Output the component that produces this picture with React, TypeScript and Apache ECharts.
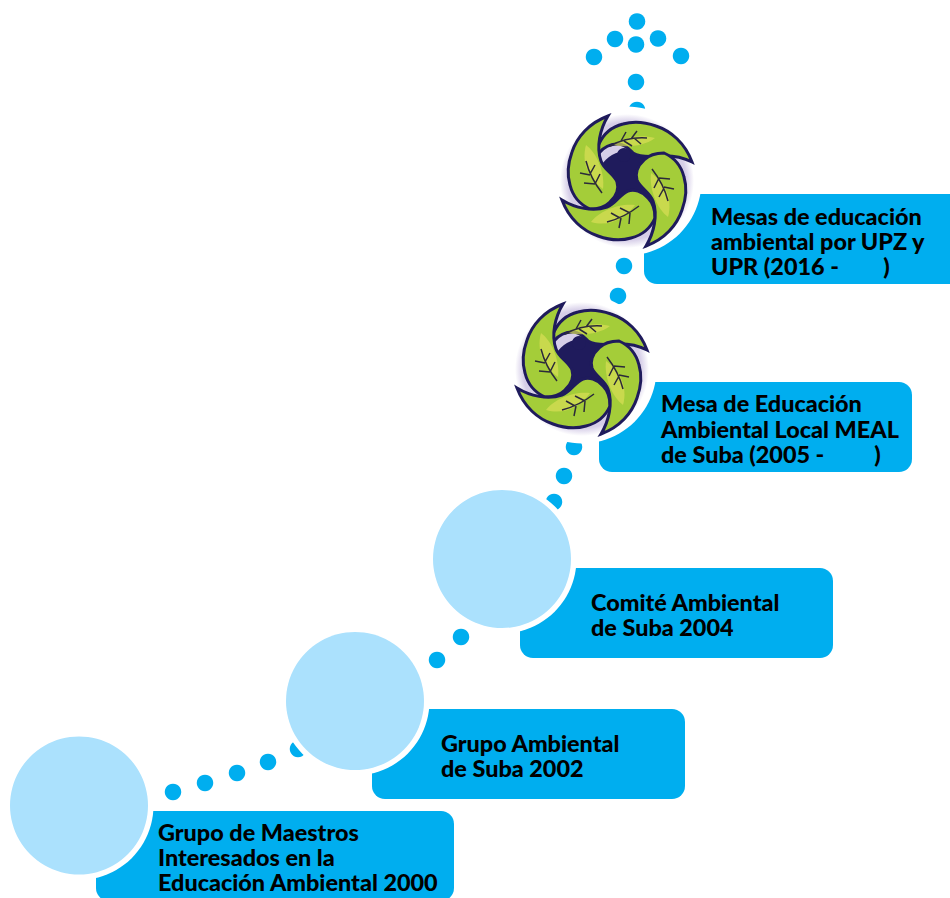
import React, { useEffect, useRef } from "react";
import * as echarts from "echarts";

const WIDTH = 950;
const HEIGHT = 898;

const dotX = [637, 615, 658, 594, 681, 636, 636, 637, 624, 618, 574, 564, 554, 461, 437, 298, 268, 237, 205, 173];
const dotY = [21.5, 39, 38.5, 57, 56, 44.5, 82, 110, 266, 296, 447, 476, 502, 637, 660, 749, 762, 773, 783, 792];

const circleX = [79, 355, 502];
const circleY = [805.5, 701, 559];

const logoX = [627, 582];
const logoY = [181, 369];

const boxLeft = [96, 372, 520, 599, 644];
const boxRight = [454, 685, 833, 912, 965];
const boxTop = [811, 709, 568, 382, 194];
const boxBottom = [901, 799, 658, 472, 284];

const labels = [
  "Grupo de Maestros\nInteresados en la\nEducación Ambiental 2000",
  "Grupo Ambiental\nde Suba 2002",
  "Comité Ambiental\nde Suba 2004",
  "Mesa de Educación\nAmbiental Local MEAL\nde Suba (2005 -         )",
  "Mesas de educación\nambiental por UPZ y\nUPR (2016 -        )",
];
const labelX = [158, 441, 591, 661, 711];
const labelY = [857, 755.5, 614.5, 428.5, 241];

const BLUE = "#00AEEF";
const LIGHT = "#ABE1FD";
const NAVY = "#1F1B5C";
const LEAF = "#A4CD39";

const OUTER_EDGE = "M65 -19 C58 -38 44 -50 29 -55 C18 -59 6 -60 -4 -57 C-16 -54 -24 -46 -28 -37";
const HEAD_LEAF_PATH =
  OUTER_EDGE + " C-30 -33 -30 -30 -28 -28 C-24 -33 -17 -37 -9 -37 C-2 -37 2 -32 6 -28 C13 -24 22 -24 32 -25 C44 -26 55 -24 65 -19 Z";
const LOBE_LEAF_PATH =
  OUTER_EDGE + " C-28 -29 -25 -21 -21 -17 C-15 -10 -7 -8 -1 -10 C7 -13 11 -23 20 -26 C34 -31 52 -27 65 -19 Z";
const HEAD_GLOW = "M-14 -36 C-2 -44 12 -47 28 -43 C18 -35 0 -33 -14 -36 Z";
const LOBE_GLOW = "M-8 -24 C2 -38 18 -46 36 -41 C28 -30 8 -22 -8 -24 Z";
const HEAD_VEIN =
  "M-17 -35 C-6 -41 6 -44 20 -43 M-6 -40 L-1 -49 M4 -42 L10 -50 M-3 -40 L5 -35 M7 -43 L14 -37";
const LOBE_VEIN =
  "M-12 -25 C-3 -32 8 -38 20 -41 M-3 -32 L-2 -43 M6 -37 L8 -47 M-3 -32 L7 -27 M7 -37 L16 -32";

const renderBox = (_: any, api: any) => {
  const i = api.value(0);
  const a = api.coord([boxLeft[i], boxTop[i]]);
  const b = api.coord([boxRight[i], boxBottom[i]]);
  return {
    type: "rect",
    shape: { x: a[0], y: a[1], width: b[0] - a[0], height: b[1] - a[1], r: 13 },
    style: { fill: BLUE },
  };
};

const renderLabel = (_: any, api: any) => {
  const i = api.value(0);
  const p = api.coord([labelX[i], labelY[i]]);
  return {
    type: "text",
    x: p[0],
    y: p[1],
    style: {
      text: labels[i],
      fill: "#000",
      font: "900 23.4px Lato",
      lineHeight: 25.3,
      align: "left",
      verticalAlign: "middle",
    },
  };
};

const renderLogo = (_: any, api: any) => {
  const p = api.coord([api.value(0), api.value(1)]);
  const leaf = (rotation: number, outline: string, glow: string, vein: string) => ({
    type: "group",
    rotation,
    children: [
      { type: "path", shape: { pathData: outline }, style: { fill: LEAF, stroke: NAVY, lineWidth: 3 } },
      { type: "path", shape: { pathData: glow }, style: { fill: "#D9DE55", opacity: 0.7 } },
      { type: "path", shape: { pathData: vein }, style: { fill: "none", stroke: "#2B2A3A", lineWidth: 1.5 } },
    ],
  });
  return {
    type: "group",
    x: p[0],
    y: p[1],
    children: [
      {
        type: "circle",
        shape: { cx: 0, cy: 0, r: 67 },
        style: {
          fill: new echarts.graphic.RadialGradient(0.5, 0.5, 0.5, [
            { offset: 0, color: "#D6CEE8" },
            { offset: 0.88, color: "#D6CEE8" },
            { offset: 1, color: "#FFFFFF" },
          ]),
        },
      },
      { type: "circle", shape: { cx: 0, cy: 0, r: 30 }, style: { fill: NAVY } },
      leaf(0, HEAD_LEAF_PATH, HEAD_GLOW, HEAD_VEIN),
      leaf(Math.PI / 2, LOBE_LEAF_PATH, LOBE_GLOW, LOBE_VEIN),
      leaf(Math.PI, LOBE_LEAF_PATH, LOBE_GLOW, LOBE_VEIN),
      leaf((3 * Math.PI) / 2, LOBE_LEAF_PATH, LOBE_GLOW, LOBE_VEIN),
      { type: "circle", shape: { cx: -3, cy: -26, r: 7 }, style: { fill: NAVY } },
    ],
  };
};

const xy = (xs: number[], ys: number[]) => xs.map((x, i) => [x, ys[i]]);
const indices = (n: number) => Array.from({ length: n }, (_, i) => [i]);

export default function App() {
  const ref = useRef<HTMLDivElement>(null);

  useEffect(() => {
    document.body.style.margin = "0";
    const chart = echarts.init(ref.current!, null, { renderer: "svg" });
    chart.setOption({
      animation: false,
      backgroundColor: "#fff",
      grid: { left: 0, right: 0, top: 0, bottom: 0 },
      xAxis: { type: "value", min: 0, max: WIDTH, show: false },
      yAxis: { type: "value", min: 0, max: HEIGHT, inverse: true, show: false },
      series: [
        {
          type: "scatter",
          z: 1,
          silent: true,
          symbolSize: 16.5,
          itemStyle: { color: BLUE, opacity: 1 },
          data: xy(dotX, dotY),
        },
        {
          type: "custom",
          z: 2,
          silent: true,
          clip: false,
          renderItem: renderBox,
          encode: { x: -1, y: -1 },
          data: indices(boxLeft.length),
        },
        {
          type: "scatter",
          z: 3,
          silent: true,
          symbolSize: 149,
          itemStyle: { color: "#fff", opacity: 1 },
          data: [...xy(circleX, circleY), ...xy(logoX, logoY)],
        },
        {
          type: "scatter",
          z: 4,
          silent: true,
          symbolSize: 138,
          itemStyle: { color: LIGHT, opacity: 1 },
          data: xy(circleX, circleY),
        },
        {
          type: "custom",
          z: 5,
          silent: true,
          renderItem: renderLogo,
          data: xy(logoX, logoY),
        },
        {
          type: "custom",
          z: 6,
          silent: true,
          clip: false,
          renderItem: renderLabel,
          encode: { x: -1, y: -1 },
          data: indices(labels.length),
        },
      ],
    });
    return () => chart.dispose();
  }, []);

  return <div ref={ref} style={{ width: WIDTH, height: HEIGHT }} />;
}
